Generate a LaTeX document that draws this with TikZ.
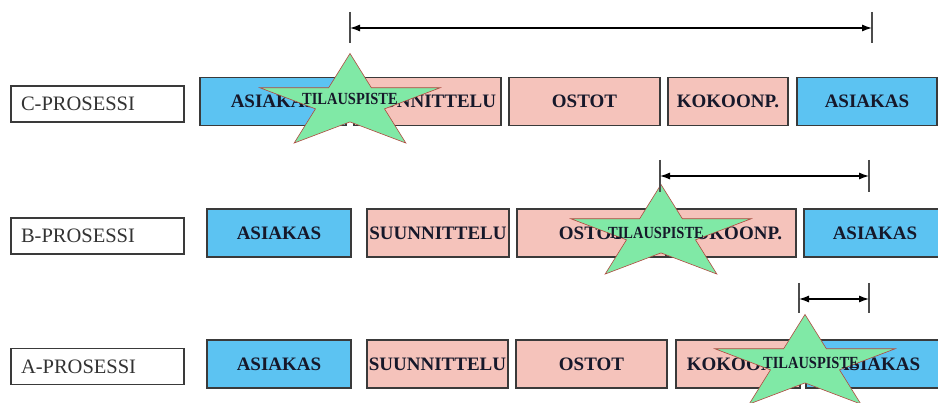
\documentclass[tikz,border=0pt]{standalone}
\usepackage{fontspec}
\setmainfont{Liberation Serif}
\usetikzlibrary{arrows.meta}

\definecolor{custblue}{HTML}{5CC3F2}
\definecolor{phasepink}{HTML}{F5C3BB}
\definecolor{starfill}{HTML}{80E9A6}
\definecolor{staredge}{HTML}{B0483F}
\definecolor{boxedge}{HTML}{3A3A3A}
\definecolor{inktext}{HTML}{16182A}

\tikzset{
  phase/.style={draw=boxedge, line width=1.2pt, minimum height=48pt, inner sep=0pt,
    text=inktext, font=\fontsize{19}{19}\selectfont\bfseries},
  custbox/.style={phase, fill=custblue},
  workbox/.style={phase, fill=phasepink},
  procbox/.style={draw=boxedge, line width=1.1pt, fill=white, minimum width=173pt,
    minimum height=36pt, inner sep=0pt, text=black!80, font=\fontsize{20.5}{20.5}\selectfont},
  starshape/.style={fill=starfill, draw=staredge, line width=0.6pt, line join=miter},
  startext/.style={inner sep=0pt, text=inktext, font=\fontsize{17}{17}\selectfont\bfseries},
  spanline/.style={line width=1.2pt, {Latex[length=10pt,width=7pt]}-{Latex[length=10pt,width=7pt]}},
  tick/.style={draw=black!70, line width=1.4pt}
}

% five-pointed order-point star, flattened vertically
\newcommand{\orderstar}[1]{%
  \begin{scope}[shift={#1}]
    \draw[starshape] (90:95pt and 49.5pt) -- (126:36.3pt and 18.9pt)
      -- (162:95pt and 49.5pt) -- (198:36.3pt and 18.9pt)
      -- (234:95pt and 49.5pt) -- (270:36.3pt and 18.9pt)
      -- (306:95pt and 49.5pt) -- (342:36.3pt and 18.9pt)
      -- (18:95pt and 49.5pt) -- (54:36.3pt and 18.9pt) -- cycle;
  \end{scope}}

\begin{document}
\begin{tikzpicture}[x=1pt, y=-1pt]
  \useasboundingbox[fill=white] (0,0) rectangle (938,403);

  % ---------- C-process ----------
  \node[procbox, text width=153pt, align=left] (cLab) at (97.5,104) {C-PROSESSI};
  \node[custbox, minimum width=146pt] (cAsi1) at (273,101.5) {ASIAKAS};
  \node[workbox, minimum width=147pt] (cSuu) at (427.5,101.5) {SUUNNITTELU};
  \node[workbox, minimum width=151pt] (cOst) at (584.5,101.5) {OSTOT};
  \node[workbox, minimum width=120pt] (cKok) at (728,101.5) {KOKOONP.};
  \node[custbox, minimum width=140pt] (cAsi2) at (867,101.5) {ASIAKAS};

  % ---------- B-process ----------
  \node[procbox, text width=153pt, align=left] (bLab) at (97.5,236) {B-PROSESSI};
  \node[custbox, minimum width=144pt] (bAsi1) at (279,233) {ASIAKAS};
  \node[workbox, minimum width=142pt] (bSuu) at (438,233) {SUUNNITTELU};
  \node[workbox, minimum width=149pt] (bOst) at (591.5,233) {OSTOT};
  \node[workbox, minimum width=130pt] (bKok) at (731,233) {KOKOONP.};
  \node[custbox, minimum width=142pt] (bAsi2) at (875,233) {ASIAKAS};

  % ---------- A-process ----------
  \node[procbox, text width=153pt, align=left] (aLab) at (97.5,366.5) {A-PROSESSI};
  \node[custbox, minimum width=144pt] (aAsi1) at (279,364) {ASIAKAS};
  \node[workbox, minimum width=141pt] (aSuu) at (437.5,364) {SUUNNITTELU};
  \node[workbox, minimum width=151pt] (aOst) at (591.5,364) {OSTOT};
  \node[workbox, minimum width=124pt] (aKok) at (738,364) {KOKOONP.};
  \node[custbox, minimum width=144pt] (aAsi2) at (878,364) {ASIAKAS};

  % ---------- order points ----------
  \orderstar{(350,103)}
  \node[startext] (cStar) at (350,99) {\scalebox{0.85}[1]{TILAUSPISTE}};
  \orderstar{(661,234)}
  \node[startext] (bStar) at (656,233) {\scalebox{0.85}[1]{TILAUSPISTE}};
  \orderstar{(805,364)}
  \node[startext] (aStar) at (811,363) {\scalebox{0.85}[1]{TILAUSPISTE}};

  % ---------- delivery-time spans ----------
  \coordinate (cL) at (350,28);  \coordinate (cR) at (872,28);
  \draw[tick] (350,12) -- (350,43);
  \draw[tick] (872,12) -- (872,43);
  \draw[spanline] (cL) -- (cR);

  \coordinate (bL) at (660,176); \coordinate (bR) at (869,176);
  \draw[tick] (660,160) -- (660,192);
  \draw[tick] (869,160) -- (869,192);
  \draw[spanline] (bL) -- (bR);

  \coordinate (aL) at (799,299); \coordinate (aR) at (869,299);
  \draw[tick] (799,283) -- (799,313);
  \draw[tick] (869,283) -- (869,313);
  \draw[spanline] (aL) -- (aR);
\end{tikzpicture}
\end{document}
